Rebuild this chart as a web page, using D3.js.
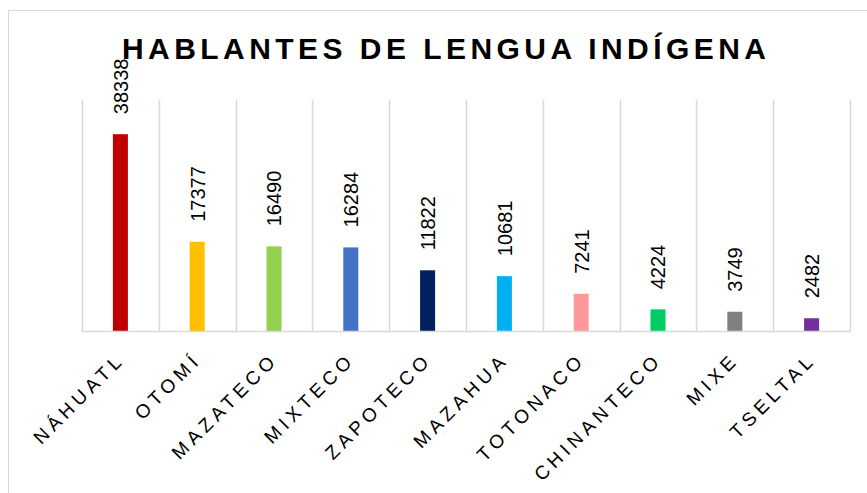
<!DOCTYPE html>
<html><head><meta charset="utf-8">
<script src="https://cdn.jsdelivr.net/npm/d3@7"></script>
<style>body{margin:0;background:#fff}svg{display:block;font-family:"Liberation Sans",Arial,sans-serif}</style>
</head><body><svg id="c" width="867" height="493"></svg>
<script>
const categories = ["NÁHUATL","OTOMÍ","MAZATECO","MIXTECO","ZAPOTECO","MAZAHUA","TOTONACO","CHINANTECO","MIXE","TSELTAL"];
const values = [38338,17377,16490,16284,11822,10681,7241,4224,3749,2482];
const colors = ["#C00000","#FFC000","#92D050","#4472C4","#002060","#00B0F0","#FF9999","#00CC66","#808080","#7030A0"];
const titleText = "HABLANTES DE LENGUA INDÍGENA";
const yMax = 45000;

const svg = d3.select("#c");
const m = {left:82, right:850, top:100, bottom:331};
svg.append("rect").attr("x",8.5).attr("y",10.5).attr("width",880).attr("height",500)
  .attr("fill","#fff").attr("stroke","#d9d9d9").attr("stroke-width",1);

const x = d3.scaleBand().domain(categories).range([m.left,m.right]).paddingInner(0).paddingOuter(0);
const y = d3.scaleLinear().domain([0,yMax]).range([m.bottom,m.top]);

// vertical gridlines at category boundaries
const bounds = categories.map(c=>x(c)).concat([m.right]);
svg.append("g").selectAll("line").data(bounds).join("line")
  .attr("x1",d=>Math.round(d)+0.5).attr("x2",d=>Math.round(d)+0.5)
  .attr("y1",m.top).attr("y2",m.bottom)
  .attr("stroke","#d9d9d9").attr("stroke-width",1.5);

const bw = 15;
svg.append("g").selectAll("rect").data(values).join("rect")
  .attr("x",(d,i)=>x(categories[i])+x.bandwidth()/2-bw/2)
  .attr("y",d=>y(d)).attr("width",bw).attr("height",d=>m.bottom-y(d))
  .attr("fill",(d,i)=>colors[i]);

// baseline
svg.append("line").attr("x1",m.left).attr("x2",m.right+1).attr("y1",m.bottom+0.5).attr("y2",m.bottom+0.5)
  .attr("stroke","#d9d9d9").attr("stroke-width",1.5);

// data labels
svg.append("g").selectAll("text").data(values).join("text")
  .attr("transform",(d,i)=>`translate(${x(categories[i])+x.bandwidth()/2+7.3},${y(d)-20}) rotate(-90)`)
  .attr("font-size",20).attr("fill","#000").text(d=>d);

// category labels
const catLs = 4.6;
svg.append("g").selectAll("text").data(categories).join("text")
  .attr("transform",c=>`translate(${x(c)+x.bandwidth()/2+2},${m.bottom+33}) rotate(-45)`)
  .attr("text-anchor","end").attr("font-size",19).attr("letter-spacing",catLs).attr("dx",catLs)
  .attr("fill","#000").text(c=>c);

// title
const t = svg.append("text").attr("x",122).attr("y",58.5).attr("text-anchor","start")
  .attr("font-size",30).attr("font-weight","bold").attr("fill","#000").text(titleText);
const natural = t.node().getComputedTextLength();
const ls = (644-natural)/(titleText.length-1);
t.attr("letter-spacing",ls);
</script></body></html>
